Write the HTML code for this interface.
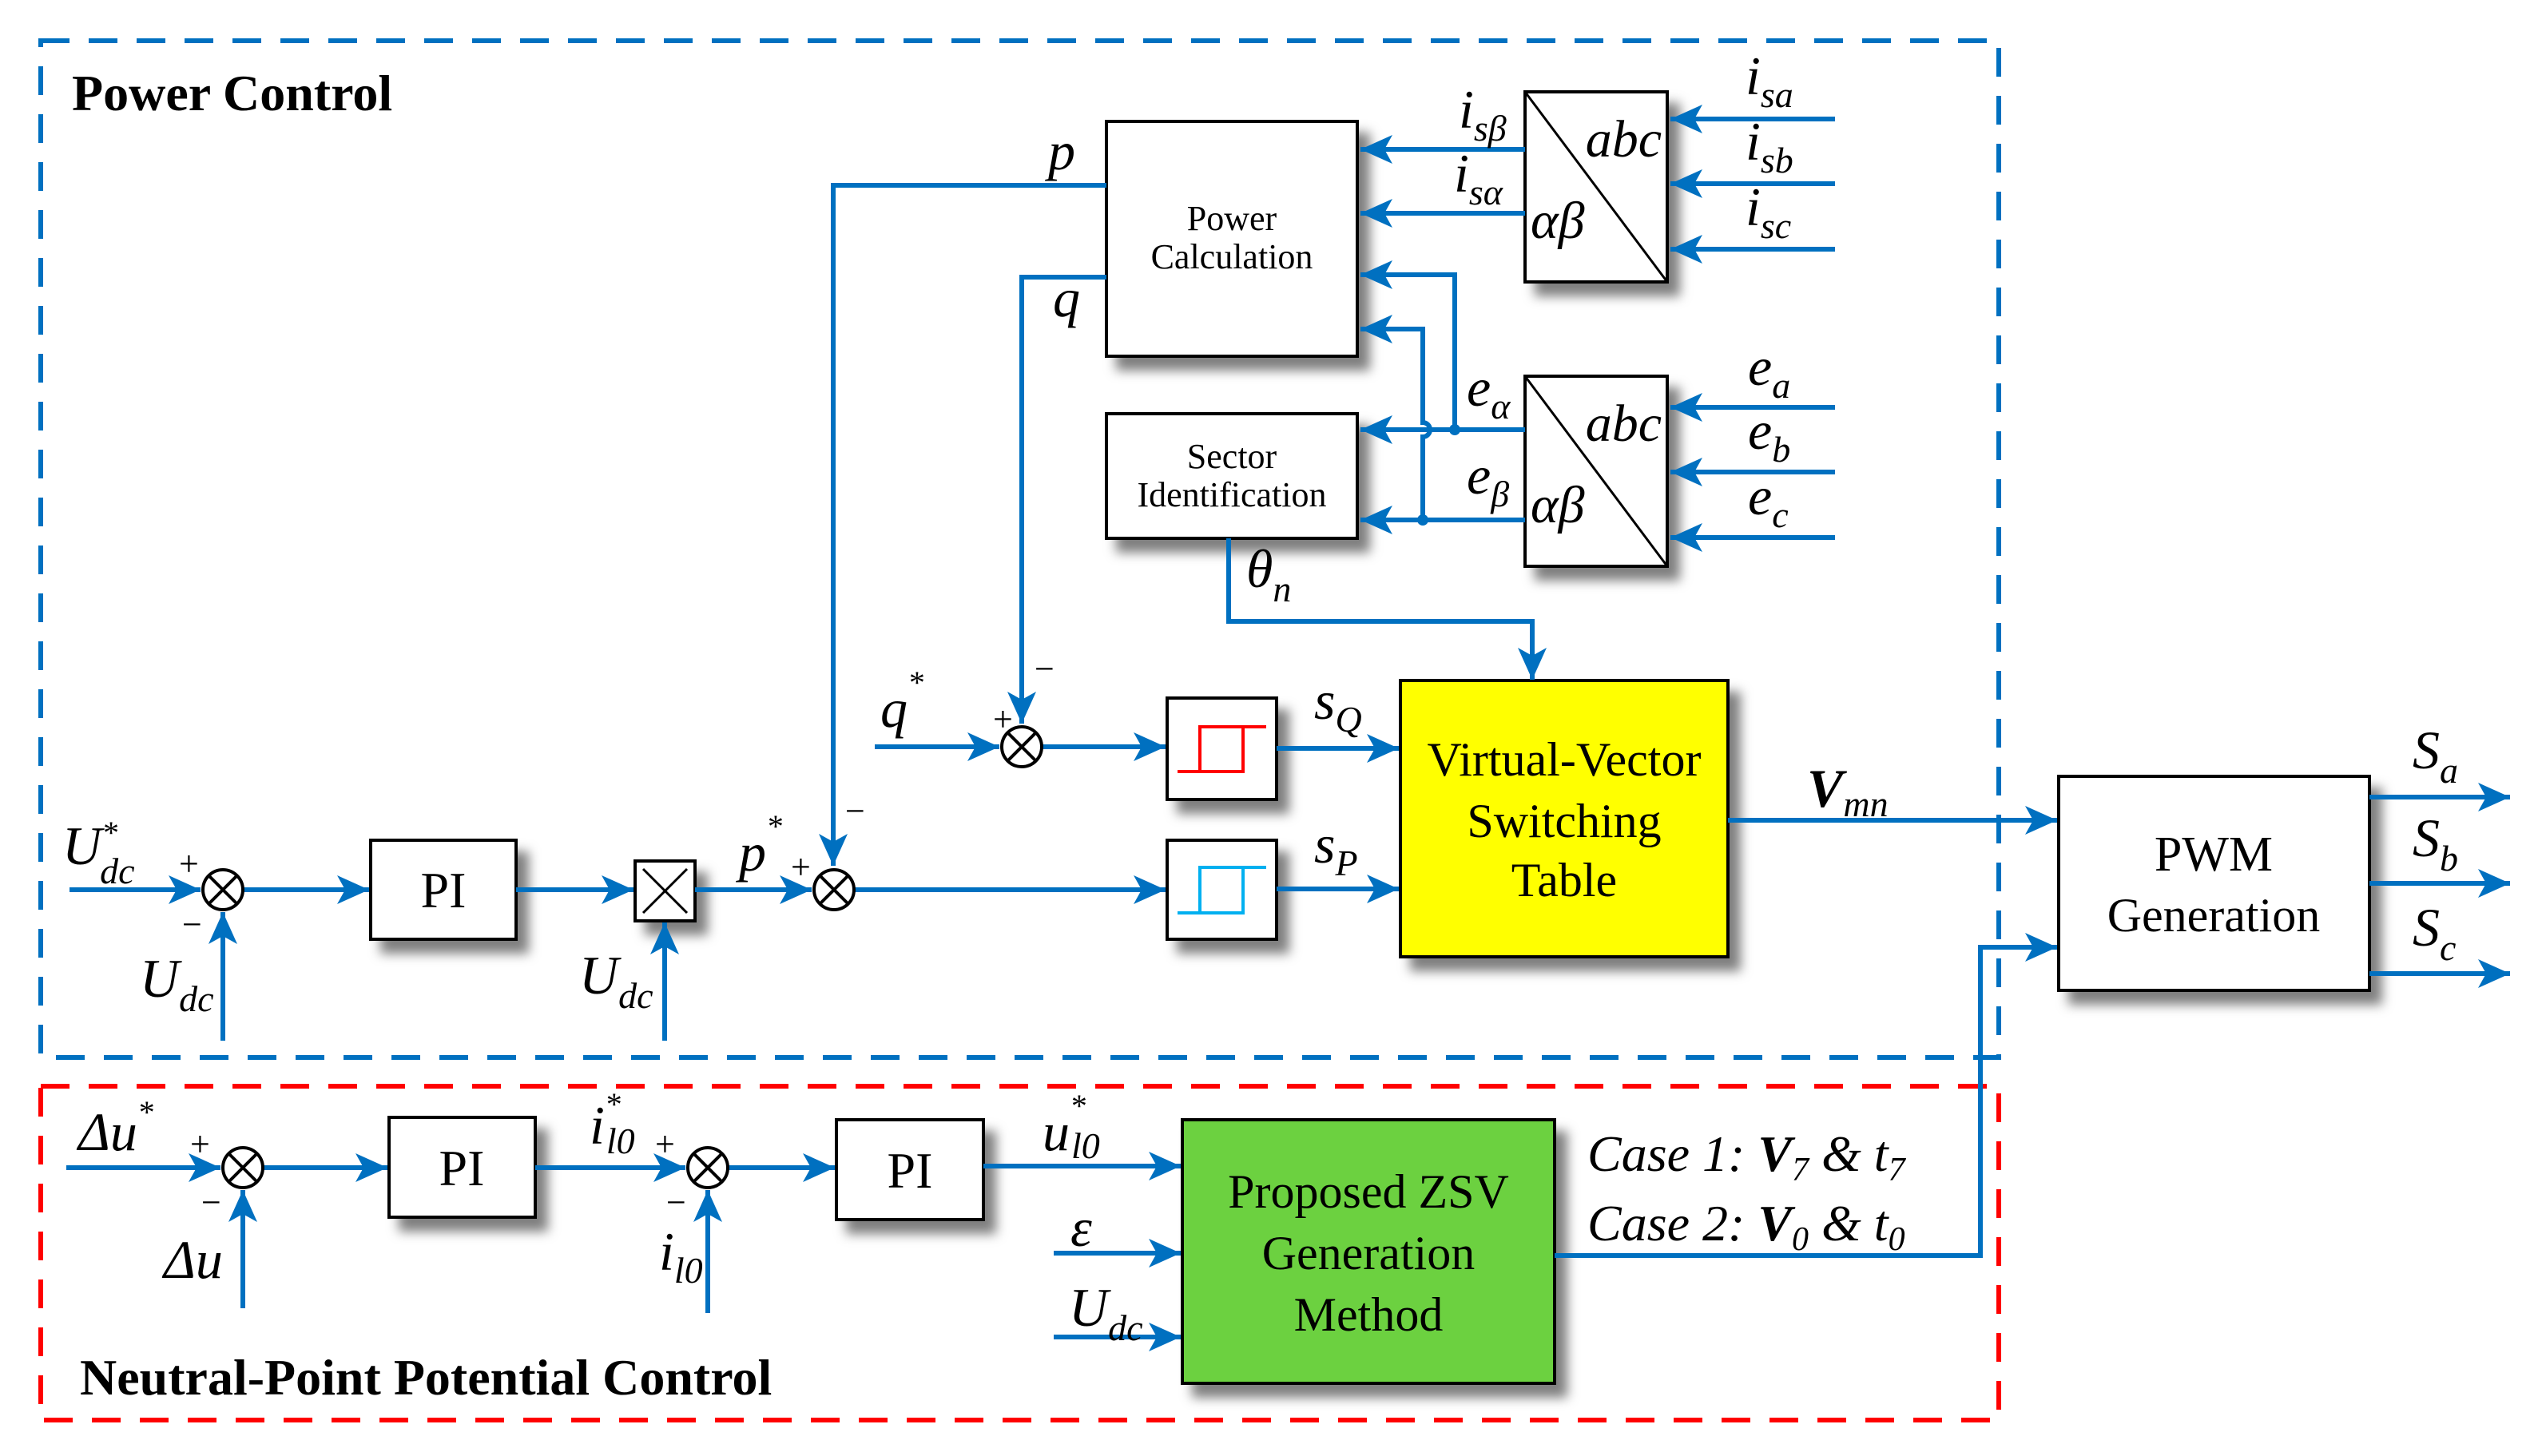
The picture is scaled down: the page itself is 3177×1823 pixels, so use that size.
<!DOCTYPE html>
<html><head><meta charset="utf-8"><style>
html,body{margin:0;padding:0;background:#fff;}
svg{display:block;}
text{font-family:"Liberation Serif","DejaVu Serif",serif;fill:#000;}
.it{font-style:italic;}
</style></head><body>
<svg width="3177" height="1823" viewBox="0 0 3177 1823" xmlns="http://www.w3.org/2000/svg" font-family="Liberation Serif, DejaVu Serif, serif">
<defs>
<marker id="a" markerUnits="userSpaceOnUse" markerWidth="44" markerHeight="40" refX="40" refY="20" orient="auto">
<path d="M0,2 L40,20 L0,38 L10,20 Z" fill="#0070C0"/>
</marker>
<filter id="sh" x="-10%" y="-10%" width="130%" height="130%">
<feDropShadow dx="14" dy="16" stdDeviation="7" flood-color="#000" flood-opacity="0.5"/>
</filter>
</defs>

<rect x="51" y="51" width="2451" height="1273" fill="none" stroke="#0070C0" stroke-width="6" stroke-dasharray="36,24"/>
<rect x="51" y="1360" width="2451" height="418" fill="none" stroke="#FF0000" stroke-width="6" stroke-dasharray="36,24"/>

<text x="90" y="138" font-size="64" font-weight="bold">Power Control</text>
<text x="100" y="1746" font-size="64" font-weight="bold">Neutral-Point Potential Control</text>

<g filter="url(#sh)" stroke="#000" stroke-width="4">
<rect x="1385" y="152" width="314" height="294" fill="#fff"/>
<rect x="1385" y="518" width="314" height="156" fill="#fff"/>
<rect x="1909" y="115" width="178" height="238" fill="#fff"/>
<rect x="1909" y="471" width="178" height="238" fill="#fff"/>
<rect x="1461" y="874" width="137" height="127" fill="#fff"/>
<rect x="1461" y="1052" width="137" height="124" fill="#fff"/>
<rect x="1753" y="852" width="410" height="346" fill="#FFFF00"/>
<rect x="2577" y="972" width="389" height="268" fill="#fff"/>
<rect x="464" y="1052" width="182" height="124" fill="#fff"/>
<rect x="795" y="1078" width="75" height="75" fill="#fff"/>
<rect x="487" y="1399" width="183" height="125" fill="#fff"/>
<rect x="1047" y="1402" width="184" height="125" fill="#fff"/>
<rect x="1480" y="1402" width="466" height="330" fill="#6CD140"/>
</g>
<line x1="1909" y1="115" x2="2087" y2="353" stroke="#000" stroke-width="3"/>
<line x1="1909" y1="471" x2="2087" y2="709" stroke="#000" stroke-width="3"/>
<line x1="805" y1="1088" x2="860" y2="1143" stroke="#000" stroke-width="3"/>
<line x1="860" y1="1088" x2="805" y2="1143" stroke="#000" stroke-width="3"/>

<path d="M1474,966 H1556 V910 H1585 M1502,966 V910 H1556" fill="none" stroke="#FF0000" stroke-width="4"/>
<path d="M1474,1143 H1556 V1086 H1585 M1502,1143 V1086 H1556" fill="none" stroke="#00B0F0" stroke-width="4"/>

<text x="1542" y="288" font-size="44" text-anchor="middle">Power</text>
<text x="1542" y="336" font-size="44" text-anchor="middle">Calculation</text>
<text x="1542" y="586" font-size="44" text-anchor="middle">Sector</text>
<text x="1542" y="634" font-size="44" text-anchor="middle">Identification</text>
<text x="2080" y="196" font-size="66" class="it" text-anchor="end">abc</text>
<text x="1916" y="298" font-size="66" class="it">αβ</text>
<text x="2080" y="552" font-size="66" class="it" text-anchor="end">abc</text>
<text x="1916" y="654" font-size="66" class="it">αβ</text>
<text x="1958" y="971" font-size="60" text-anchor="middle">Virtual-Vector</text>
<text x="1958" y="1048" font-size="60" text-anchor="middle">Switching</text>
<text x="1958" y="1122" font-size="60" text-anchor="middle">Table</text>
<text x="2771" y="1090" font-size="62" text-anchor="middle">PWM</text>
<text x="2771" y="1166" font-size="60" text-anchor="middle">Generation</text>
<text x="1713" y="1512" font-size="60" text-anchor="middle">Proposed ZSV</text>
<text x="1713" y="1589" font-size="60" text-anchor="middle">Generation</text>
<text x="1713" y="1666" font-size="60" text-anchor="middle">Method</text>
<text x="555" y="1136" font-size="64" text-anchor="middle">PI</text>
<text x="578" y="1484" font-size="64" text-anchor="middle">PI</text>
<text x="1139" y="1487" font-size="64" text-anchor="middle">PI</text>

<g fill="none" stroke="#0070C0" stroke-width="6">
<path d="M1385,232 H1043 V1084" marker-end="url(#a)"/>
<path d="M1385,347 H1279 V906" marker-end="url(#a)"/>
<path d="M1909,187 H1703" marker-end="url(#a)"/>
<path d="M1909,267 H1703" marker-end="url(#a)"/>
<path d="M2297,149 H2091" marker-end="url(#a)"/>
<path d="M2297,230 H2091" marker-end="url(#a)"/>
<path d="M2297,312 H2091" marker-end="url(#a)"/>
<path d="M2297,510 H2091" marker-end="url(#a)"/>
<path d="M2297,591 H2091" marker-end="url(#a)"/>
<path d="M2297,673 H2091" marker-end="url(#a)"/>
<path d="M1909,538 H1703" marker-end="url(#a)"/>
<path d="M1909,651 H1703" marker-end="url(#a)"/>
<path d="M1821,538 V344 H1703" marker-end="url(#a)"/>
<path d="M1781,651 V547 A9,9 0 0 0 1781,529 V412 H1703" marker-end="url(#a)"/>
<path d="M1538,674 V778 H1918 V851" marker-end="url(#a)"/>
<path d="M1095,935 H1251" marker-end="url(#a)"/>
<path d="M1305,935 H1459" marker-end="url(#a)"/>
<path d="M1598,937 H1751" marker-end="url(#a)"/>
<path d="M1598,1113 H1751" marker-end="url(#a)"/>
<path d="M87,1114 H251" marker-end="url(#a)"/>
<path d="M279,1303 V1142" marker-end="url(#a)"/>
<path d="M305,1114 H462" marker-end="url(#a)"/>
<path d="M646,1114 H793" marker-end="url(#a)"/>
<path d="M832,1303 V1155" marker-end="url(#a)"/>
<path d="M870,1114 H1016" marker-end="url(#a)"/>
<path d="M1070,1114 H1459" marker-end="url(#a)"/>
<path d="M2163,1027 H2575" marker-end="url(#a)"/>
<path d="M2966,998 H3142" marker-end="url(#a)"/>
<path d="M2966,1106 H3142" marker-end="url(#a)"/>
<path d="M2966,1219 H3142" marker-end="url(#a)"/>
<path d="M1946,1572 H2479 V1186 H2575" marker-end="url(#a)"/>
<path d="M83,1462 H276" marker-end="url(#a)"/>
<path d="M304,1638 V1490" marker-end="url(#a)"/>
<path d="M330,1462 H485" marker-end="url(#a)"/>
<path d="M670,1462 H858" marker-end="url(#a)"/>
<path d="M886,1644 V1490" marker-end="url(#a)"/>
<path d="M912,1462 H1045" marker-end="url(#a)"/>
<path d="M1231,1460 H1478" marker-end="url(#a)"/>
<path d="M1319,1569 H1478" marker-end="url(#a)"/>
<path d="M1319,1674 H1478" marker-end="url(#a)"/>
</g>
<circle cx="1821" cy="538" r="7" fill="#0070C0"/>
<circle cx="1781" cy="651" r="7" fill="#0070C0"/>

<g fill="#fff" stroke="#000" stroke-width="4">
<circle cx="1279" cy="935" r="25"/><path d="M1261,917 L1297,953 M1297,917 L1261,953"/>
<circle cx="279" cy="1114" r="25"/><path d="M261,1096 L297,1132 M297,1096 L261,1132"/>
<circle cx="1044" cy="1114" r="25"/><path d="M1026,1096 L1062,1132 M1062,1096 L1026,1132"/>
<circle cx="304" cy="1462" r="25"/><path d="M286,1444 L322,1480 M322,1444 L286,1480"/>
<circle cx="886" cy="1462" r="25"/><path d="M868,1444 L904,1480 M904,1444 L868,1480"/>
</g>

<g class="it" font-size="68">
<text x="1312" y="212" class="it">p</text>
<text x="1318" y="396" class="it">q</text>
<text x="1826" y="160" class="it">i<tspan font-size="46" dy="16">sβ</tspan></text>
<text x="1820" y="240" class="it">i<tspan font-size="46" dy="16">sα</tspan></text>
<text x="2185" y="118" class="it">i<tspan font-size="46" dy="16">sa</tspan></text>
<text x="2185" y="200" class="it">i<tspan font-size="46" dy="16">sb</tspan></text>
<text x="2185" y="282" class="it">i<tspan font-size="46" dy="16">sc</tspan></text>
<text x="1836" y="508" class="it">e<tspan font-size="46" dy="16">α</tspan></text>
<text x="1836" y="618" class="it">e<tspan font-size="46" dy="16">β</tspan></text>
<text x="2188" y="482" class="it">e<tspan font-size="46" dy="16">a</tspan></text>
<text x="2188" y="562" class="it">e<tspan font-size="46" dy="16">b</tspan></text>
<text x="2188" y="644" class="it">e<tspan font-size="46" dy="16">c</tspan></text>
<text x="1560" y="735" class="it">θ<tspan font-size="46" dy="18">n</tspan></text>
<text x="1102" y="910" class="it">q<tspan font-size="40" dy="-42">*</tspan></text>
<text x="1645" y="900" class="it">s<tspan font-size="46" dy="16">Q</tspan></text>
<text x="1645" y="1080" class="it">s<tspan font-size="46" dy="16">P</tspan></text>
<text x="2262" y="1010" class="it" font-weight="bold">V<tspan font-size="46" dy="12" font-weight="normal">mn</tspan></text>
<text x="3020" y="962" class="it">S<tspan font-size="46" dy="18">a</tspan></text>
<text x="3020" y="1072" class="it">S<tspan font-size="46" dy="18">b</tspan></text>
<text x="3020" y="1184" class="it">S<tspan font-size="46" dy="18">c</tspan></text>
<text x="78" y="1082" class="it">U<tspan font-size="40" dy="-26">*</tspan><tspan font-size="46" dx="-22" dy="50">dc</tspan></text>
<text x="175" y="1248" class="it">U<tspan font-size="46" dy="18">dc</tspan></text>
<text x="725" y="1244" class="it">U<tspan font-size="46" dy="18">dc</tspan></text>
<text x="925" y="1090" class="it">p<tspan font-size="40" dy="-42">*</tspan></text>
<text x="98" y="1440" class="it">Δu<tspan font-size="40" dy="-34">*</tspan></text>
<text x="205" y="1600" class="it">Δu</text>
<text x="738" y="1432" class="it">i<tspan font-size="40" dy="-36">*</tspan><tspan font-size="46" dx="-18" dy="48">l0</tspan></text>
<text x="825" y="1590" class="it">i<tspan font-size="46" dy="16">l0</tspan></text>
<text x="1305" y="1440" class="it">u<tspan font-size="40" dy="-42">*</tspan><tspan font-size="46" dx="-18" dy="52">l0</tspan></text>
<text x="1340" y="1560" class="it">ε</text>
<text x="1338" y="1660" class="it">U<tspan font-size="46" dy="18">dc</tspan></text>
<text x="1987" y="1466" class="it" font-size="64">Case 1: <tspan font-weight="bold">V</tspan><tspan font-size="42" dy="12">7</tspan><tspan dy="-12"> &amp; t</tspan><tspan font-size="42" dy="12">7</tspan></text>
<text x="1987" y="1553" class="it" font-size="64">Case 2: <tspan font-weight="bold">V</tspan><tspan font-size="42" dy="12">0</tspan><tspan dy="-12"> &amp; t</tspan><tspan font-size="42" dy="12">0</tspan></text>
</g>
<g font-size="44">
<text x="1243" y="915">+</text><text x="1295" y="852">−</text>
<text x="224" y="1096">+</text><text x="228" y="1172">−</text>
<text x="990" y="1100">+</text><text x="1058" y="1030">−</text>
<text x="238" y="1447">+</text><text x="252" y="1520">−</text>
<text x="820" y="1447">+</text><text x="834" y="1520">−</text>
</g>
</svg>
</body></html>
